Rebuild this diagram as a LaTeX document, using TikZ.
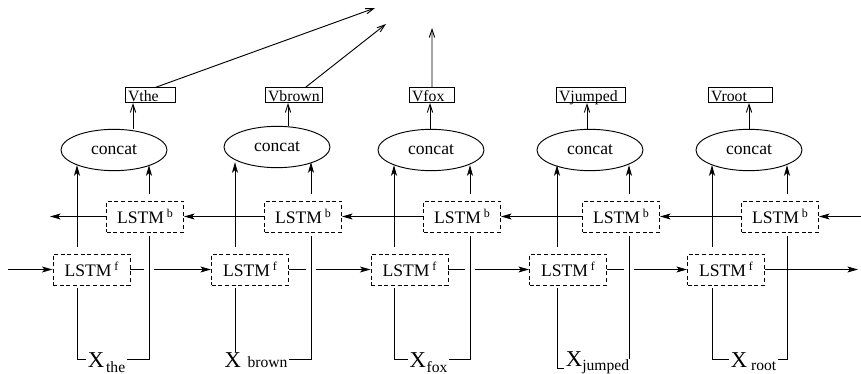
\documentclass[tikz,border=0pt]{standalone}
\usepackage{fontspec}
\setmainfont{Liberation Serif}
\usetikzlibrary{arrows.meta, shapes.geometric, calc}

\newcommand{\lstmsup}[1]{LSTM\hspace{2.2pt}\raisebox{4.8pt}{\fontsize{9}{10}\selectfont #1}}
\newcommand{\wsub}[3]{\hspace{#1}\raisebox{-#2}{\fontsize{11.7}{13}\selectfont #3}}

\begin{document}
\begin{tikzpicture}[
    x=0.75pt, y=-0.75pt, line width=0.7pt,
    fwd/.style={-{Stealth[length=8pt,width=4.5pt,inset=2pt]}},
    open/.style={-{Straight Barb[length=6pt,width=4pt]}},
    cell/.style={draw, dash pattern=on 3pt off 2pt, minimum width=57.75pt,
                 minimum height=23.25pt, inner sep=0pt,
                 font=\fontsize{13.2}{15}\selectfont},
    cat/.style={draw, ellipse, minimum width=79.5pt, minimum height=31pt,
                inner sep=0pt, font=\fontsize{13.2}{15}\selectfont},
    vec/.style={draw, anchor=south west, inner xsep=2pt, inner ysep=0.5pt,
                text height=10pt, text depth=0pt, align=left,
                font=\fontsize{11.8}{13}\selectfont},
    word/.style={anchor=base, inner xsep=1pt, inner ysep=0pt,
                 text height=11.25pt, text depth=0pt,
                 font=\fontsize{17}{19}\selectfont},
    gap/.style={preaction={draw=white, line width=7pt}}
  ]
  \useasboundingbox (0,0) rectangle (861,374);

  % forward and backward cells
  \node[cell] (f1) at (91.5,269.5) {\lstmsup{f}};
  \node[cell] (f2) at (250,269.5)  {\lstmsup{f}};
  \node[cell] (f3) at (409.5,269.5) {\lstmsup{f}};
  \node[cell] (f4) at (568,269.5)  {\lstmsup{f}};
  \node[cell] (f5) at (726,269.5)  {\lstmsup{f}};
  \node[cell] (b1) at (145,216.5)  {\lstmsup{b}};
  \node[cell] (b2) at (303,216.5)  {\lstmsup{b}};
  \node[cell] (b3) at (462,216.5)  {\lstmsup{b}};
  \node[cell] (b4) at (621,216.5)  {\lstmsup{b}};
  \node[cell] (b5) at (780,216.5)  {\lstmsup{b}};

  % concat and output vectors
  \node[cat] (c1) at (114,150) {concat};
  \node[cat] (c2) at (277,147) {concat};
  \node[cat] (c3) at (431,150) {concat};
  \node[cat] (c4) at (590,150) {concat};
  \node[cat] (c5) at (749,150) {concat};
  \node[vec, text width=33.5pt]  (v1) at (125,103) {Vthe};
  \node[vec, text width=38.75pt] (v2) at (265,103) {Vbrown};
  \node[vec, text width=29.75pt] (v3) at (409,103) {Vfox};
  \node[vec, text width=47.75pt] (v4) at (556,103) {Vjumped};
  \node[vec, text width=44pt]    (v5) at (708,103) {Vroot};

  % input words
  \node[word] (w1) at (106.5,367) {X\wsub{1.5pt}{3.75pt}{the}};
  \node[word] (w2) at (256,367)   {X\wsub{5pt}{0pt}{brown}};
  \node[word] (w3) at (428.5,367) {X\wsub{0.5pt}{3.75pt}{fox}};
  \node[word] (w4) at (597.5,366) {X\wsub{0pt}{3.2pt}{jumped}};
  \node[word] (w5) at (753.5,367) {X\wsub{3pt}{2.25pt}{root}};

  \foreach \i/\lx/\rx/\ax in {1/77/149/133, 2/235/311/288, 3/394/470/430,
                              4/557/629/587, 5/712/787/749} {
    \coordinate (l\i) at (\lx,0);
    \coordinate (r\i) at (\rx,0);
    \coordinate (a\i) at (\ax,0);
  }
  \coordinate (fin)  at (8,269.5);
  \coordinate (fout) at (858,269.5);
  \coordinate (bin)  at (861,216.5);
  \coordinate (bout) at (50,216.5);
  \coordinate (o1) at (375,8);
  \coordinate (o2) at (386,24);
  \coordinate (o3) at (432,28);

  % recurrent links
  \draw[fwd] (fin) -- (f1.west);
  \foreach \i/\j in {1/2, 2/3, 3/4, 4/5}
    \draw[fwd] (f\i.east) -- (f\j.west);
  \draw[fwd] (bin) -- (b5.east);
  \foreach \i/\j in {5/4, 4/3, 3/2, 2/1}
    \draw[fwd] (b\i.west) -- (b\j.east);
  \draw[fwd] (b1.west) -- (bout);

  % words into cells
  \foreach \i in {1,3,5} {
    \draw (w\i.west) -| ([yshift=-2pt]f\i.south -| l\i);
    \draw[gap] (w\i.east) -| ([yshift=-3pt]b\i.south -| r\i);
  }
  \draw (l2 |- w2.north) -- ([yshift=-2pt]f2.south -| l2);
  \draw[gap] (w2.east) -| ([yshift=-3pt]b2.south -| r2);
  \draw ([yshift=-7.5pt]w4.west) -| ([yshift=-2pt]f4.south -| l4);
  \draw[gap] (r4 |- w4.center) -- ([yshift=-3pt]b4.south -| r4);

  % cells into concat, concat into vectors
  \foreach \i in {1,...,5} {
    \draw[fwd] ([yshift=5pt]f\i.north -| l\i) -- (l\i |- c\i.202);
    \draw[fwd] ([yshift=5pt]b\i.north -| r\i) -- (r\i |- c\i.338);
    \draw[open] (a\i |- c\i.north) -- (a\i |- v\i.south);
  }
  \draw[fwd] (f5.east) -- (fout);

  % outputs
  \draw[open] ([xshift=3.75pt]v1.north) -- (o1);
  \draw[open] ([xshift=8.6pt]v2.north) -- (o2);
  \draw[open] (v3.north) -- (o3);
\end{tikzpicture}
\end{document}
